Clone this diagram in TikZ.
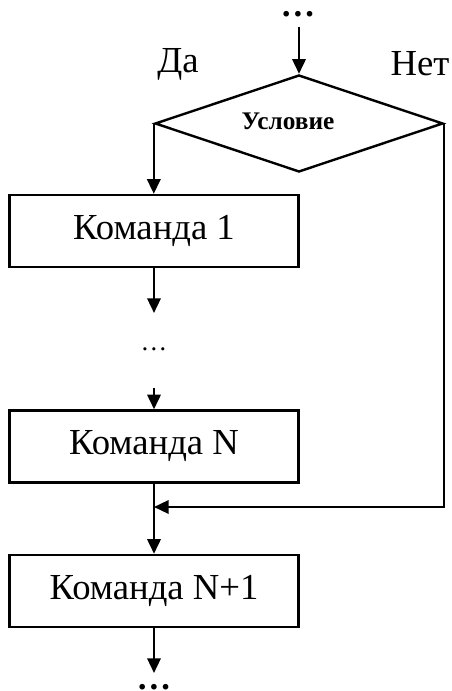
\documentclass[tikz,border=0pt]{standalone}
\usepackage{fontspec}
\setmainfont{Liberation Serif}
\usetikzlibrary{shapes.geometric,arrows.meta}
\begin{document}
\begin{tikzpicture}[x=0.75pt,y=-0.75pt,
  line width=1.8pt,
  arr/.style={-{Triangle[length=11pt,width=10pt]}},
  cmd/.style={draw,rectangle,minimum width=216.75pt,minimum height=54pt,inner sep=0pt,font=\fontsize{27.5}{30}\selectfont},
  cond/.style={draw,diamond,aspect=2.97,minimum width=216pt,minimum height=72.75pt,inner sep=0pt},
  condtext/.style={font=\fontsize{19}{21}\selectfont\bfseries,inner sep=0pt},
  lbl/.style={font=\fontsize{27.5}{30}\selectfont,inner sep=0pt},
  bigdots/.style={font=\fontsize{26}{28}\selectfont\bfseries,inner sep=0pt,anchor=base},
  smalldots/.style={font=\fontsize{20}{22}\selectfont,inner sep=0pt,anchor=base}]
\useasboundingbox (0,0) rectangle (451,691);
\node[bigdots] (top) at (298,17) {…};
\node[cond] (d) at (299,123.5) {};
\node[condtext] (ct) at (288,121) {Условие};
\node[lbl] (da) at (178,64) {Да};
\node[lbl] (net) at (420,64) {Нет};
\node[cmd] (b1) at (154,231) {Команда 1};
\node[smalldots] (mid) at (154,350) {…};
\node[cmd] (bn) at (154,446.5) {Команда N};
\node[cmd] (bn1) at (154,591) {Команда N+1};
\node[bigdots] (bot) at (154,689) {…};
\coordinate (j) at (154,507);
\coordinate (t1) at (299,27);
\coordinate (m1) at (154,313);
\coordinate (m2) at (154,388);
\coordinate (e1) at (154,673);
\draw[arr] (t1) -- (d.north);
\draw[arr] (d.west) -- (d.west |- b1.north);
\draw[arr] (b1.south) -- (m1);
\draw[arr] (m2) -- (bn.north);
\draw[arr] (d.east) |- (j);
\draw (bn.south) -- (j);
\draw[arr] (j) -- (bn1.north);
\draw[arr] (bn1.south) -- (e1);
\end{tikzpicture}
\end{document}
